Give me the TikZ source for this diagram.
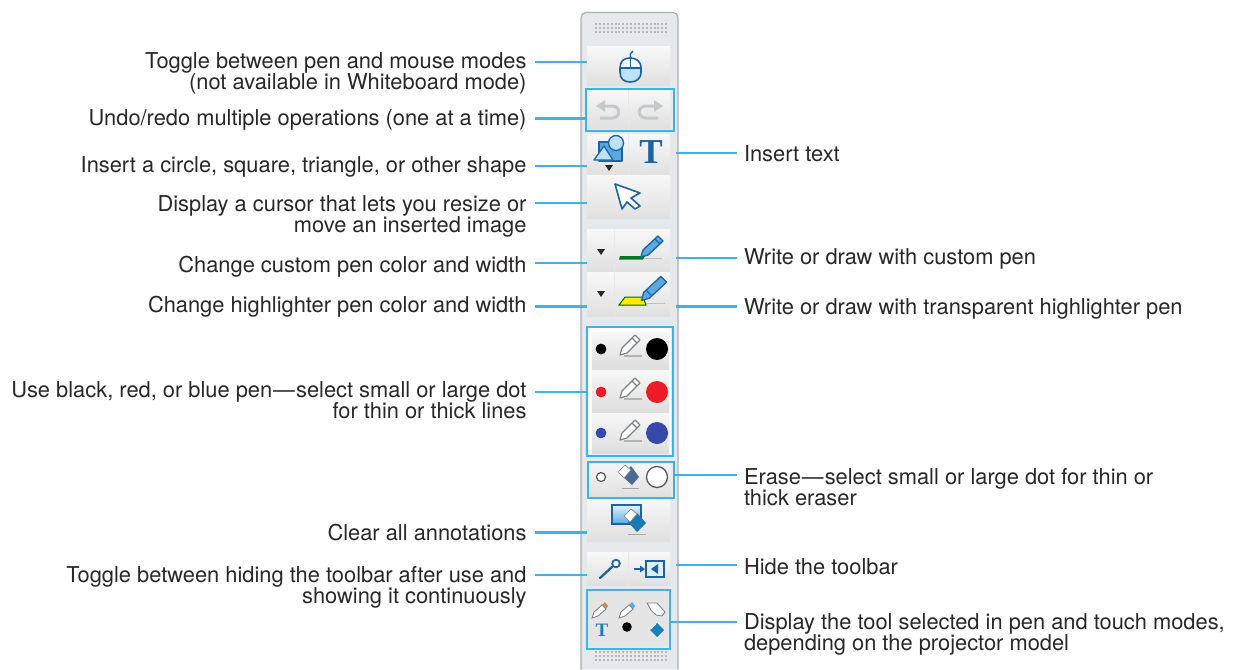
\documentclass[tikz,border=0pt]{standalone}
\usepackage{fontspec}
\setmainfont{TeX Gyre Heros}
\newfontfamily\serifT{Liberation Serif}
\definecolor{conn}{HTML}{3AB4EA}
\definecolor{ink}{HTML}{2A2728}
\definecolor{icon}{HTML}{1F62A4}
\definecolor{iconl}{HTML}{BFE1F6}
\definecolor{iconm}{HTML}{5AA9DF}
\definecolor{pengray}{HTML}{7E8388}
\definecolor{undog}{HTML}{C4C9CC}
\definecolor{barbg}{HTML}{E6E9EC}
\definecolor{barln}{HTML}{A9AEB2}
\definecolor{erase}{HTML}{4A6A94}
\definecolor{dotred}{HTML}{ED1C24}
\definecolor{dotblue}{HTML}{3649A8}
\tikzset{
  x=1pt,y=-1pt,
  lab/.style={font=\fontsize{21.85}{21}\selectfont,text=ink,inner sep=0pt,outer sep=0pt},
  labl/.style={lab,align=right,anchor=north east},
  labr/.style={lab,align=left,anchor=north west},
  wire/.style={draw=conn,line width=2.5pt},
  frame/.style={draw=conn,line width=2.4pt,fill=none},
  btn/.style={draw=none,top color=black!3,bottom color=black!12,inner sep=0pt,outer sep=0pt,minimum width=0pt},
  cell/.style={top color=black!3,bottom color=black!13,draw=none},
  ic/.style={draw=icon,line width=1.6pt,line join=round,fill=iconl},
  grayic/.style={draw=pengray,line width=1.2pt,line join=round,fill=white},
}
\newcommand{\graypen}[2]{\begin{scope}[shift={(#1,#2)}]
  \fill[black!30] (-6,8) -- (12,8) -- (12,9.5) -- (-6,9.5) -- cycle;
  \draw[grayic] (-10,8) -- (-8,1) -- (5,-12) -- (10,-7) -- (-3,6) -- cycle;
  \draw[pengray,line width=1.2pt] (2,-9) -- (7,-4);
\end{scope}}
\newcommand{\bluepen}[2]{\begin{scope}[shift={(#1,#2)}]
  \draw[draw=icon,line width=1.4pt,line join=round,fill=iconm] (-11,10) -- (-9,3) -- (6,-11) -- (11,-6) -- (-4,8) -- cycle;
  \draw[icon,line width=1.1pt] (3,-8) -- (8,-3);
\end{scope}}
\newcommand{\smallpen}[3]{\begin{scope}[shift={(#1,#2)}]
  \draw[draw=pengray,line width=.9pt,fill=white] (-8,8) -- (-6,2) -- (2,-5) -- (6,-1) -- (-2,6) -- cycle;
  \fill[#3] (2,-5) -- (5,-8) -- (8,-4) -- (6,-1) -- cycle;
\end{scope}}
\newcommand{\grille}[1]{\foreach \i in {0,...,18}{\foreach \j in {0,1,2}{
  \fill[black!28] (595+\i*3.9,#1+\j*4) rectangle ++(2,2);}}}
\begin{document}
\begin{tikzpicture}
\useasboundingbox (0,0) rectangle (1236,669);
\fill[white] (0,0) rectangle (1236,669);
% toolbar body
\draw[draw=barln,line width=1.2pt,fill=barbg,rounded corners=5pt] (581,669.5) -- (581,12.5) -- (678,12.5) -- (678,669.5);
\grille{23}
\grille{651}
% buttons
\node[btn,minimum width=83,minimum height=38,anchor=north west] (mousebtn) at (587,47) {};
\node[btn,minimum width=41,minimum height=38,anchor=north west] (undobtn) at (587,90) {};
\node[btn,minimum width=41,minimum height=38,anchor=north west] (redobtn) at (629,90) {};
\node[btn,minimum width=41,minimum height=41,anchor=north west] (shapebtn) at (587,134) {};
\node[btn,minimum width=41,minimum height=41,anchor=north west] (textbtn) at (629,134) {};
\node[btn,minimum width=83,minimum height=43,anchor=north west] (arrowbtn) at (587,175) {};
\node[btn,minimum width=27,minimum height=42,anchor=north west] (penmenu) at (587,229) {};
\node[btn,minimum width=55,minimum height=42,anchor=north west] (penbtn) at (615,229) {};
\node[btn,minimum width=27,minimum height=44,anchor=north west] (himenu) at (587,272) {};
\node[btn,minimum width=55,minimum height=44,anchor=north west] (hibtn) at (615,272) {};
\fill[white] (588,327) rectangle (671,454);
\fill[cell] (592,332) rectangle (669,369);
\fill[cell] (592,370) rectangle (669,412);
\fill[cell] (592,413) rectangle (669,453);
\node[btn,minimum width=83,minimum height=35,anchor=north west] (erasebtn) at (588,461) {};
\node[btn,minimum width=83,minimum height=43,anchor=north west] (clearbtn) at (587,498) {};
\node[btn,minimum width=41,minimum height=33,anchor=north west] (pinbtn) at (587,552) {};
\node[btn,minimum width=41,minimum height=33,anchor=north west] (hidebtn) at (629,552) {};
\fill[black!10] (588,590) rectangle (668,646);
% blue frames
\node[frame,minimum width=88,minimum height=42,anchor=north west,inner sep=0pt] (undobox) at (584.5,88) {};
\node[frame,minimum width=86,minimum height=129,anchor=north west,inner sep=0pt] (colorbox) at (586,326) {};
\node[frame,minimum width=86,minimum height=36,anchor=north west,inner sep=0pt] (erasebox) at (586.5,460.5) {};
\node[frame,minimum width=83,minimum height=59,anchor=north west,inner sep=0pt] (toolbox) at (586,588.5) {};
% mouse
\draw[icon,line width=1.3pt] (631,58) .. controls (629,54) and (631,53) .. (633,51);
\draw[ic] (620,68) .. controls (620,61) and (624,58) .. (630,58) .. controls (636,58) and (641,61) .. (641,68) -- (641,72) .. controls (641,79) and (636,82) .. (630,82) .. controls (624,82) and (620,79) .. (620,72) -- cycle;
\fill[white,opacity=.75] (621,68) .. controls (621,62) and (625,59) .. (630,59) .. controls (635,59) and (640,62) .. (640,68) -- cycle;
\draw[icon,line width=1.1pt] (620,68) -- (641,68) (630.5,59) -- (630.5,68);
% undo redo
\draw[undog,line width=3pt] (604,106) -- (612,106) .. controls (621,106) and (621,118) .. (612,118) -- (600,118);
\fill[undog] (596,106) -- (605,100) -- (605,112) -- cycle;
\draw[undog,line width=3pt] (654,106) -- (646,106) .. controls (637,106) and (637,118) .. (646,118) -- (658,118);
\fill[undog] (663,106) -- (654,100) -- (654,112) -- cycle;
% shapes
\draw[ic,fill=iconm,line width=1.3pt] (599,142) rectangle (622,161);
\draw[ic,line width=1.3pt] (616,143) circle (7.5);
\draw[ic,line width=1.3pt] (594,160) -- (604,146) -- (613,160) -- cycle;
\fill[ink] (605,165) -- (613,165) -- (609,171) -- cycle;
\node[font=\serifT\bfseries\fontsize{35}{35}\selectfont,text=icon,inner sep=0pt] (ttool) at (651,152) {T};
% arrow
\draw[ic,fill=white,line width=1.6pt] (615,184) -- (640,193) -- (631,198) -- (640,206) -- (635,209) -- (627,202) -- (622,209) -- cycle;
% dropdowns
\fill[ink] (597,249) -- (605,249) -- (601,255) -- cycle;
\fill[ink] (597,291) -- (605,291) -- (601,297) -- cycle;
% custom pen
\fill[black!25] (640,258) -- (662,258) -- (662,259) -- (640,259) -- cycle;
\fill[green!55!black!85!blue] (620,256) -- (645,256) -- (643,259.5) -- (619,259.5) -- cycle;
\bluepen{652}{247}
% highlighter
\fill[black!25] (645,303) -- (665,303) -- (665,304) -- (645,304) -- cycle;
\draw[draw=black!60!green,line width=1pt,fill=yellow!95!orange] (619,305) -- (625,297) -- (643,297) -- (646,305) -- cycle;
\begin{scope}[shift={(654,289)},scale=1.15]\draw[draw=icon,line width=1.3pt,line join=round,fill=iconm] (-11,10) -- (-9,3) -- (6,-11) -- (11,-6) -- (-4,8) -- cycle;\draw[icon,line width=1pt] (-7,1) -- (-2,6);\end{scope}
% colour rows
\fill[black] (601,349) circle (5.4);
\fill[black] (657,349) circle (11);
\graypen{630}{347}
\fill[dotred] (601,392) circle (5.4);
\fill[dotred] (657,392) circle (11);
\graypen{630}{390}
\fill[dotblue] (601,433) circle (5.4);
\fill[dotblue] (657,433) circle (11);
\graypen{630}{432}
% eraser row
\draw[black!70,line width=1.1pt,fill=white] (601,477) circle (4.5);
\draw[black!65,line width=1.3pt,fill=white] (657,477) circle (10.5);
\fill[erase] (622,476) -- (631,466) -- (639,477) -- (632,485) -- cycle;
\draw[pengray,fill=white,line width=.6pt] (618,472) -- (625,465) -- (631,470) -- (624,478) -- cycle;
\fill[black!35] (622,488) rectangle (639,489.2);
% clear
\draw[draw=icon,line width=1.5pt,top color=iconl!40,bottom color=iconm] (612,505) rectangle (641,524);
\fill[icon!85!cyan] (628,522) -- (637,513) -- (646,523) -- (637,532) -- cycle;
\draw[pengray,fill=white,line width=.6pt] (624,516) -- (631,509) -- (637,514) -- (630,522) -- cycle;
\fill[black!35] (628,534) rectangle (646,535.2);
% pin
\draw[icon,line width=2.3pt,line cap=round] (600,578) -- (612,567);
\draw[icon,line width=1.8pt,fill=white] (616,563.5) circle (3.8);
% hide
\draw[draw=icon,line width=1.7pt,fill=iconl!50] (646,561) rectangle (664,577);
\fill[icon] (651,569) -- (658,564) -- (658,574) -- cycle;
\draw[icon,line width=1.7pt] (634,569) -- (641,569);
\fill[icon] (645,569) -- (640,565.5) -- (640,572.5) -- cycle;
% tool box icons
\smallpen{600}{610}{orange!70!black!70}
\smallpen{627}{610}{iconm}
\draw[draw=pengray,line width=.9pt,fill=white,line join=round] (647,603) -- (657,603) -- (665,612) -- (662,616) -- (656,615) -- (651,610) -- cycle;
\node[font=\serifT\bfseries\fontsize{19}{19}\selectfont,text=icon!80!cyan,inner sep=0pt] (ttoolsmall) at (602,630) {T};
\fill[black] (627,627) circle (4.8);
\fill[icon!80!cyan] (650,630) -- (657,623) -- (664,630) -- (657,637) -- cycle;
\draw[white,line width=.5pt] (651,629) -- (656,624);
% left labels (y = baseline of first line minus 16)
\node[labl] (l1) at (526.5,53) {Toggle between pen and mouse modes\\(not available in Whiteboard mode)};
\node[labl] (l2) at (526.5,110) {Undo/redo multiple operations (one at a time)};
\node[labl] (l3) at (526.5,156.5) {Insert a circle, square, triangle, or other shape};
\node[labl] (l4) at (526.5,196) {Display a cursor that lets you resize or\\move an inserted image};
\node[labl] (l5) at (526.5,256) {Change custom pen color and width};
\node[labl] (l6) at (526.5,296) {Change highlighter pen color and width};
\node[labl] (l7) at (526.5,382) {Use black, red, or blue pen\kern1pt—\kern1pt select small or large dot\\for thin or thick lines};
\node[labl] (l8) at (526.5,524) {Clear all annotations};
\node[labl] (l9) at (526.5,566) {Toggle between hiding the toolbar after use and\\showing it continuously};
% right labels
\node[labr] (r1) at (744,146) {Insert text};
\node[labr] (r2) at (744,249) {Write or draw with custom pen};
\node[labr] (r3) at (744,299) {Write or draw with transparent highlighter pen};
\node[labr] (r4) at (744,468) {Erase\kern1pt—\kern1pt select small or large dot for thin or\\thick eraser};
\node[labr] (r5) at (744,559) {Hide the toolbar};
\node[labr] (r6) at (744,614) {Display the tool selected in pen and touch modes,\\depending on the projector model};
% connector free ends
\foreach \n/\y in {a1/62,a2/118.5,a3/166,a4/203,a5/263,a6/306.5,a7/392,a8/532.5,a9/575}{\coordinate (\n) at (535,\y);}
\foreach \n/\y in {b1/153,b2/258,b3/306.5,b4/475,b5/565,b6/622}{\coordinate (\n) at (737,\y);}
\foreach \n/\y in {e1/153,e2/258,e3/306.5,e5/565}{\coordinate (\n) at (676,\y);}
% connectors
\draw[wire] (a1) -- (a1 -| mousebtn.west);
\draw[wire] (a2) -- (a2 -| undobox.west);
\draw[wire] (a3) -- (a3 -| shapebtn.west);
\draw[wire] (a4) -- (a4 -| arrowbtn.west);
\draw[wire] (a5) -- (a5 -| penmenu.west);
\draw[wire] (a6) -- (a6 -| himenu.west);
\draw[wire] (a7) -- (a7 -| colorbox.west);
\draw[wire] (a8) -- (a8 -| clearbtn.west);
\draw[wire] (a9) -- (a9 -| pinbtn.west);
\draw[wire] (b1) -- (e1);
\draw[wire] (b2) -- (e2);
\draw[wire] (b3) -- (e3);
\draw[wire] (b4) -- (b4 -| erasebox.east);
\draw[wire] (b5) -- (e5);
\draw[wire] (b6) -- (b6 -| toolbox.east);
\end{tikzpicture}
\end{document}
